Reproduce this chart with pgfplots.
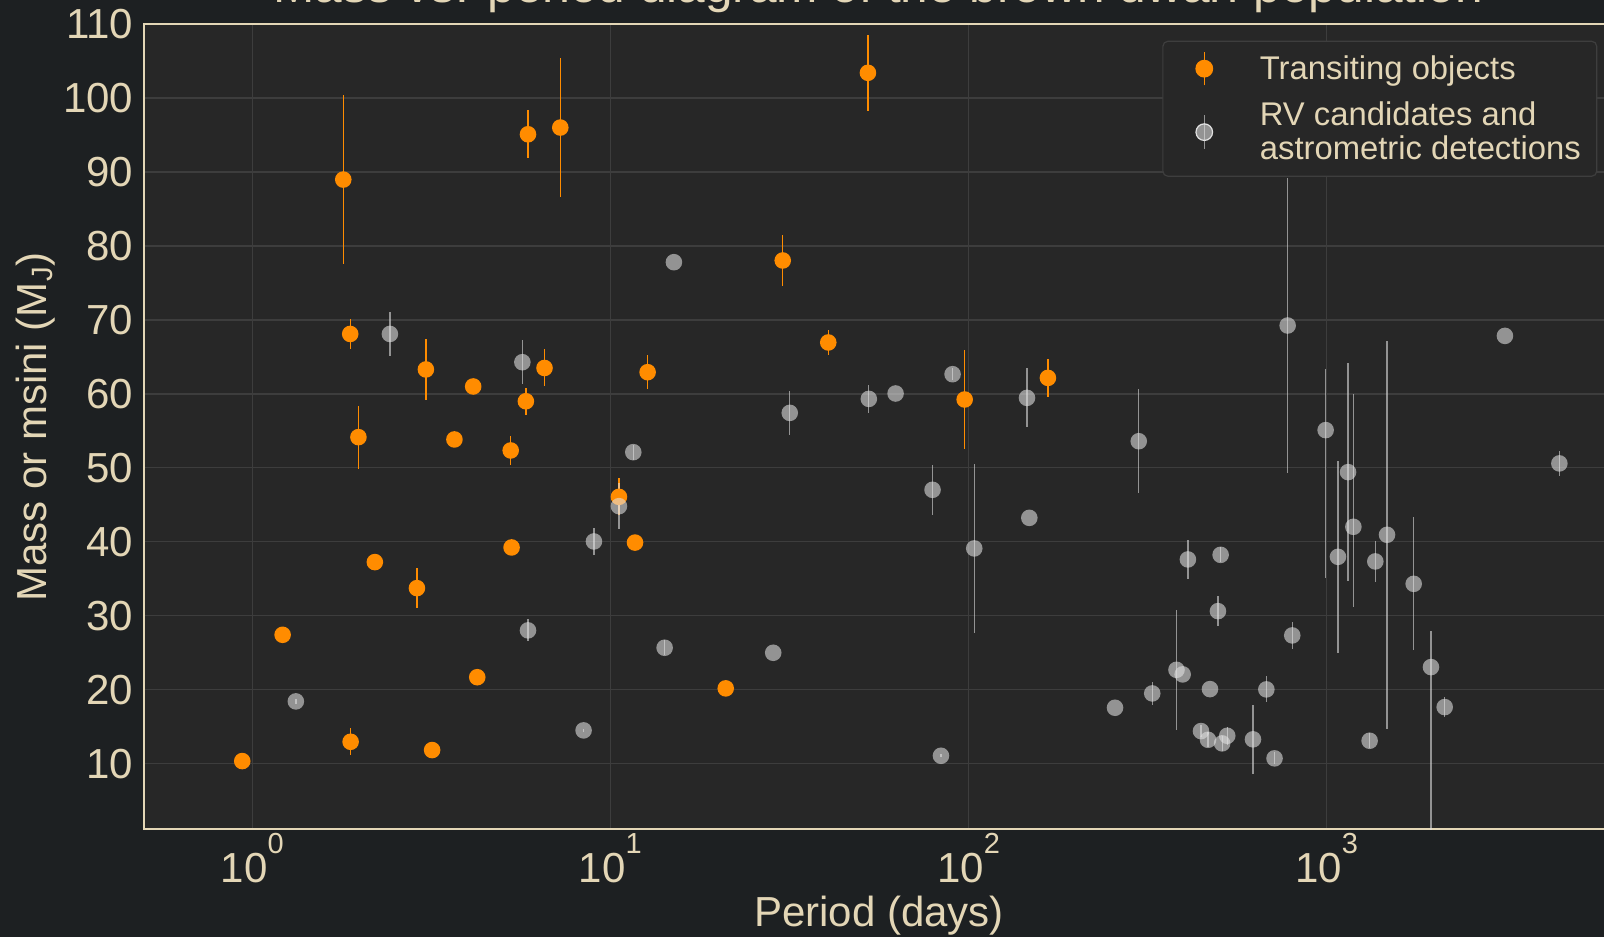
\documentclass[border=0pt]{standalone}
\usepackage{pgfplots}
\usepackage{pgfplotstable}
\pgfplotsset{compat=1.18}
\usepackage{fontspec}
\setmainfont{Liberation Sans}
\definecolor{bgc}{HTML}{1D2022}
\definecolor{axbg}{HTML}{272727}
\definecolor{txt}{HTML}{E3D6B6}
\definecolor{gridc}{HTML}{3D3D3D}
\definecolor{legedge}{HTML}{3E3E3E}
\definecolor{orc}{HTML}{FF8C00}
\definecolor{grc}{HTML}{E2E2E2}
\newcommand{\tenp}[1]{10\raisebox{14.5pt}{\fontsize{14.5}{16}\selectfont #1}}
\pgfdeclareplotmark{fcirc}{\pgfpathcircle{\pgfpointorigin}{\pgfplotmarksize}\pgfusepathqfill}

\pgfplotstableread{
P M e
1.796 88.97 11.45
1.878 68.1 2.05
3.055 63.3 4.1
4.14 61.0 0
1.98 54.15 4.25
3.67 53.84 0
2.20 37.26 0
2.884 33.74 2.75
1.216 27.43 0
4.25 21.7 0
1.883 12.97 1.8
3.18 11.85 0
0.938 10.36 0
5.89 95.09 3.25
7.25 96.0 9.4
52.4 103.4 5.1
30.3 78.03 3.4
6.55 63.5 2.5
12.71 62.93 2.3
40.6 66.95 1.7
5.81 59.0 1.8
5.27 52.35 1.9
10.57 46.08 2.5
11.72 39.9 0
5.30 39.24 0
21.0 20.19 0.8
97.6 59.24 6.75
166.7 62.16 2.6
}\transiting

\pgfplotstableread{
P M ep em
2.424 68.1 3.0 3.0
1.324 18.43 0.3 0.3
15.05 77.8 0 0
5.68 64.28 3.0 3.0
31.7 57.43 3.0 3.0
52.7 59.32 1.9 1.9
11.59 52.12 1.0 1.0
10.57 44.82 3.1 3.1
9.0 40.05 1.8 1.8
5.89 28.03 1.5 1.5
14.18 25.68 1.0 1.0
28.5 25.0 0 0
8.42 14.51 0.2 0.2
90.3 62.66 0.8 0.8
62.6 60.05 0 0
145.7 59.46 4.0 4.0
298.9 53.6 7.0 7.0
778.6 69.24 19.9 19.9
3148 67.84 0 0
994 55.1 8.2 20.0
1148 49.42 14.7 14.7
1188 42.03 18.0 10.9
1076 37.97 13.0 13.0
1475 40.95 26.2 26.2
1368 37.35 2.75 2.75
1751 34.32 9.0 9.0
1957 23.07 4.9 22.5
2137 17.66 1.3 1.3
4467 50.6 1.7 1.7
802 27.35 1.85 1.85
679 20.05 1.75 1.75
623 13.3 4.7 4.7
715.6 10.73 0.8 0.8
1319 13.11 1.0 1.0
79.4 47.03 3.35 3.35
103.8 39.11 11.45 11.45
147.9 43.24 0 0
83.8 11.08 0.2 0.2
410 37.62 2.6 2.6
506 38.24 1.0 1.0
497.4 30.63 2.05 2.05
381 22.7 8.1 8.1
396.5 22.08 0 0
326 19.51 1.5 1.5
256.6 17.57 0 0
472.5 20.09 0 0
446 14.42 0.8 0.8
466.6 13.24 1.0 1.0
511 12.76 1.0 1.0
528 13.78 1.2 1.2
}\rvcand

\begin{document}
\begin{tikzpicture}
\fill[bgc] (0,0) rectangle (802pt,468.5pt);
\begin{axis}[
  at={(72.2pt,54pt)}, anchor=south west,
  scale only axis, width=730.8pt, height=402.5pt,
  xmode=log, xmin=0.5, xmax=6030,
  ymin=1.18, ymax=110,
  axis background/.style={fill=axbg},
  axis line style={draw=txt, line width=1pt},
  grid=major, grid style={gridc, line width=0.65pt},
  major tick length=0pt, minor tick length=0pt,
  xminorgrids=false,
  /pgf/number format/assume math mode=true,
  xtick={1,10,100,1000},
  xticklabels={\tenp{0},\tenp{1},\tenp{2},\tenp{3}},
  ytick={10,20,30,40,50,60,70,80,90,100,110},
  tick label style={font=\fontsize{21}{25}\selectfont, text=txt},
  yticklabel style={anchor=east, inner sep=0pt, xshift=-5.35pt},
  xticklabel style={anchor=base, inner sep=0pt, yshift=-26.5pt},
  title={Mass vs. period diagram of the brown dwarf population},
  title style={at={(axis description cs:0.502,1.0112)}, anchor=base, inner sep=0pt,
    font=\fontsize{24.8}{28}\selectfont, text=txt},
  xlabel={Period (days)},
  xlabel style={at={(axis description cs:0.5026,-0.1205)}, anchor=base, inner sep=0pt,
    font=\fontsize{21}{25}\selectfont, text=txt},
  ylabel={Mass or msini (M\textsubscript{J})},
  ylabel style={at={(axis description cs:-0.0673,0.4994)}, anchor=base, inner sep=0pt,
    font=\fontsize{21}{25}\selectfont, text=txt},
  legend cell align=left,
  legend style={at={(axis description cs:0.99405,0.97925)}, anchor=north east,
    draw=legedge, line width=0.6pt, fill=axbg, rounded corners=2.5pt, text=txt,
    font=\fontsize{16.4}{16.7}\selectfont,
    nodes={inner sep=2pt, align=left},
    column sep=0pt,
    inner xsep=6pt, inner ysep=5pt, row sep=6pt},
]
\addplot[orc, only marks, mark=fcirc, mark size=4.15pt,
  mark options={fill=orc},
  legend image code/.code={
    \path[draw=none, fill=none] (0pt,0pt) -- (40.5pt,0pt);
    \draw[orc, line width=0.65pt] (14.7pt,-8.35pt) -- (14.7pt,8.35pt);
    \fill[orc] (14.7pt,0pt) circle[radius=4.15pt];},
  error bars/.cd, y dir=both, y explicit, error mark=none,
  error bar style={draw=orc, line width=0.65pt}]
  table[x=P, y=M, y error=e] {\transiting};
\addlegendentry{Transiting objects}
\addplot[grc, only marks, mark=fcirc, mark size=4.15pt,
  mark options={fill=grc, fill opacity=0.58},
  legend image code/.code={
    \path[draw=none, fill=none] (0pt,0pt) -- (40.5pt,0pt);
    \draw[grc, draw opacity=0.58, line width=0.65pt] (14.7pt,-8.35pt) -- (14.7pt,8.35pt);
    \fill[grc, fill opacity=0.58] (14.7pt,0pt) circle[radius=4.15pt];},
  error bars/.cd, y dir=both, y explicit, error mark=none,
  error bar style={draw=grc, draw opacity=0.58, line width=0.65pt}]
  table[x=P, y=M, y error plus=ep, y error minus=em] {\rvcand};
\addlegendentry{RV candidates and\\astrometric detections}
\end{axis}
\pgfresetboundingbox
\path[use as bounding box] (0,0) rectangle (802pt,468.5pt);
\end{tikzpicture}
\end{document}
